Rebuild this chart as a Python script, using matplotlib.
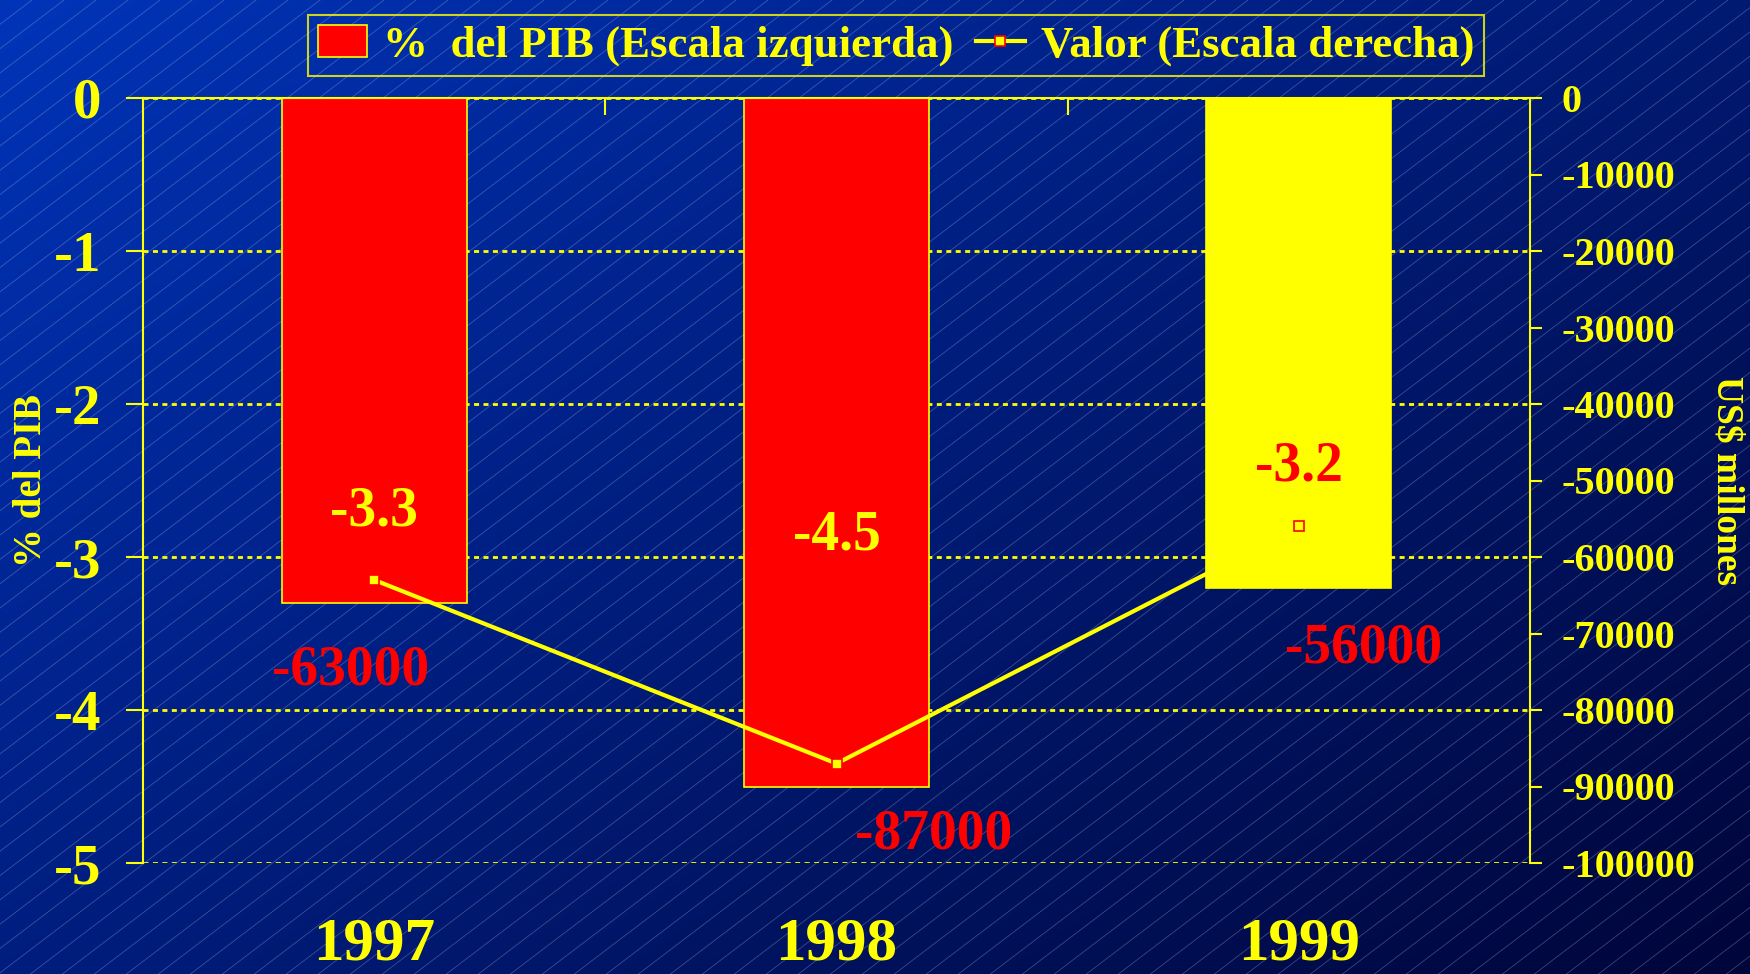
import numpy as np
import matplotlib
matplotlib.use("Agg")
import matplotlib.pyplot as plt
from matplotlib.patches import Patch
from matplotlib.lines import Line2D
from matplotlib.colors import LinearSegmentedColormap

plt.rcParams['font.family'] = ['Liberation Serif', 'DejaVu Serif']
plt.rcParams['font.weight'] = 'bold'
plt.rcParams['axes.unicode_minus'] = False

# data
years = ['1997', '1998', '1999']
pct_pib = [-3.3, -4.5, -3.2]
valor = [-63000, -87000, -56000]
bar_colors = ['#ff0000', '#ff0000', '#ffff00']
pct_text_colors = ['#ffff00', '#ffff00', '#ff0000']
left_ticks = [0, -1, -2, -3, -4, -5]
right_ticks = list(range(0, -100001, -10000))

# label placement (left-axis units / right-axis units)
pct_label_y = [-2.70, -2.86, -2.41]
val_label_dx = [-0.05, 0.21, 0.14]
val_label_y = [-74800, -96300, -71900]

YEL = '#ffff00'
RED = '#ff0000'

W, H = 1750, 974
fig = plt.figure(figsize=(W / 100, H / 100), dpi=100)

# background: diagonal gradient with thin hatch lines
bg = fig.add_axes([0, 0, 1, 1], zorder=-10)
gx, gy = np.meshgrid(np.linspace(0, 1, 350), np.linspace(0, 1, 195))
t = (gx * 0.55 + gy * 0.45)
cmap = LinearSegmentedColormap.from_list('bg', ['#0034b8', '#00238e', '#001462', '#00053a'])
bg.imshow(t, cmap=cmap, extent=(0, W, H, 0), aspect='auto', interpolation='bilinear')
k = 0.76
for c in np.arange(0, W * k + H + 40, 32 * k):
    xs = np.array([0, W])
    bg.plot(xs, c - k * xs, color='#b8c0e8', lw=0.6, alpha=0.32)
bg.set_xlim(0, W)
bg.set_ylim(H, 0)
bg.axis('off')

ax = fig.add_axes([143 / W, 1 - 863 / H, 1387 / W, 765 / H])
ax.set_facecolor('none')
x = np.arange(len(years))

ax.bar(x, pct_pib, width=0.4, color=bar_colors, edgecolor=YEL, linewidth=1.2, zorder=2)
ax.set_xlim(-0.5, 2.5)
ax.set_ylim(-5, 0)

ax.set_yticks(left_ticks)
ax.set_yticklabels([str(v) for v in left_ticks])
ax.tick_params(axis='y', direction='out', length=12, width=1.5, color=YEL,
               labelcolor=YEL, labelsize=41, pad=18)
ax.yaxis.grid(True, color=YEL, linestyle=(0, (1.8, 1.6)), linewidth=2, zorder=1)
ax.set_axisbelow(True)

ax.set_xticks(x)
ax.set_xticklabels([])
ax.tick_params(axis='x', which='major', length=0)
ax.set_xticks([0.5, 1.5], minor=True)
ax.tick_params(axis='x', which='minor', top=True, bottom=False, direction='in',
               length=12, width=1.5, color=YEL)
for i, yr in enumerate(years):
    ax.text(i, -0.106, yr, transform=ax.get_xaxis_transform(), ha='center', va='center',
            fontsize=44, color=YEL, fontweight='bold')

for side in ['left', 'right', 'top']:
    ax.spines[side].set_color(YEL)
    ax.spines[side].set_linewidth(1.5)
ax.spines['bottom'].set_visible(False)

ax.set_ylabel('% del PIB', color=YEL, fontsize=28, fontweight='bold', va='center')
ax.yaxis.set_label_coords(-0.0807, 0.5)

for i, v in enumerate(pct_pib):
    ax.text(i, pct_label_y[i], f'{v:.1f}', ha='center', va='center', fontsize=40,
            color=pct_text_colors[i], fontweight='bold', zorder=5)

ax2 = ax.twinx()
ax2.set_facecolor('none')
ax2.plot(x, valor, color=YEL, lw=3, marker='s', markersize=7,
         markerfacecolor=YEL, markeredgecolor=RED, markeredgewidth=1.2, zorder=3)
ax2.set_ylim(-100000, 0)
ax2.set_yticks(right_ticks)
ax2.set_yticklabels([str(v) for v in right_ticks])
ax2.tick_params(axis='y', direction='out', length=8.5, width=1.5, color=YEL,
                labelcolor=YEL, labelsize=29, pad=14)
for s in ax2.spines.values():
    s.set_visible(False)
ax2.set_ylabel('US$ millones', color=YEL, fontsize=27, fontweight='bold', rotation=-90,
               va='center')
ax2.yaxis.set_label_coords(1.142, 0.5)

for i, v in enumerate(valor):
    ax2.text(i + val_label_dx[i], val_label_y[i], str(v), ha='center', va='center',
             fontsize=40, color=RED, fontweight='bold', zorder=6)

handles = [Patch(facecolor=RED, edgecolor=YEL, linewidth=1.2),
           Line2D([], [], color=YEL, lw=3, marker='s', markersize=7,
                  markerfacecolor=YEL, markeredgecolor=RED, markeredgewidth=1.2)]
leg = fig.legend(handles, ['%  del PIB (Escala izquierda)', 'Valor (Escala derecha)'],
                 loc='center', bbox_to_anchor=(0.512, 0.953), ncol=2, frameon=True,
                 fontsize=32.3, labelcolor=YEL, fancybox=False, edgecolor=YEL,
                 facecolor='none', handlelength=1.1, handletextpad=0.35,
                 columnspacing=0.5, borderpad=0.22)
leg.get_frame().set_linewidth(1.5)
for txt in leg.get_texts():
    txt.set_fontweight('bold')

fig.savefig('out.png', dpi=100)
